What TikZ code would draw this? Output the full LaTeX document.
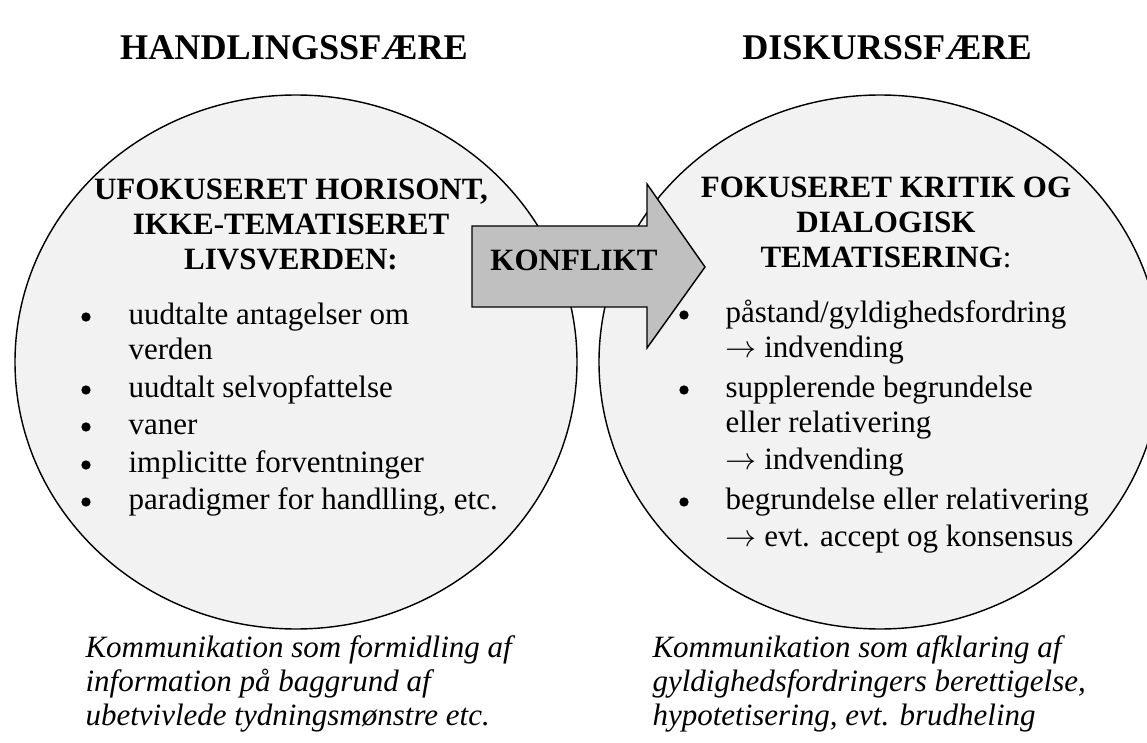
\documentclass[tikz,border=0pt]{standalone}
\usepackage{fontspec}
\setmainfont{Liberation Serif}
\definecolor{circfill}{HTML}{F2F2F2}
\definecolor{arrowfill}{HTML}{C0C0C0}
\newcommand{\rarr}{$\rightarrow$}
\begin{document}
\begin{tikzpicture}[x=0.3871pt,y=-0.3871pt,
  body/.style={font=\fontsize{12}{14}\selectfont, inner sep=0pt, anchor=base west},
  head/.style={font=\fontsize{12}{14}\selectfont\bfseries, inner sep=0pt, anchor=base},
  headplain/.style={font=\fontsize{12}{14}\selectfont, inner sep=0pt, anchor=base},
  ttl/.style={font=\fontsize{14}{17}\selectfont\bfseries, inner sep=0pt, anchor=base},
  dot/.style={circle, fill=black, inner sep=0pt, minimum size=3.6pt},
  capt/.style={font=\fontsize{12}{14}\selectfont\itshape, inner sep=0pt, anchor=base west},
  sphere/.style={fill=circfill, draw=black, line width=0.55pt},
  bigarrow/.style={fill=arrowfill, draw=black, line width=0.55pt, line join=miter}
]
\useasboundingbox (0,0) rectangle (1147,743);
\clip (0,0) rectangle (1147,743);

% titles
\node[ttl] (t1) at (294,60) {HANDLINGSSFÆRE};
\node[ttl] (t2) at (887,60) {DISKURSSFÆRE};

% spheres
\draw[sphere] (296,362) ellipse [x radius=281, y radius=267];
\draw[sphere] (880,362) ellipse [x radius=281, y radius=267];

% arrow
\draw[bigarrow] (472,226) -- (647,226) -- (647,184) -- (705,267) -- (647,348) -- (647,307) -- (472,307) -- cycle;
\node[head] (konf) at (574,271) {KONFLIKT};

% left heading
\node[head] (lh1) at (291,200) {UFOKUSERET HORISONT,};
\node[head] (lh2) at (291,235) {IKKE-TEMATISERET};
\node[head] (lh3) at (291,270) {LIVSVERDEN:};

% left bullets
\node[dot] (lb1) at (86,317) {};
\node[dot] (lb2) at (86,390) {};
\node[dot] (lb3) at (86,427) {};
\node[dot] (lb4) at (86,465) {};
\node[dot] (lb5) at (86,502) {};
\node[body] (ll1) at (128,325) {uudtalte antagelser om};
\node[body] (ll2) at (128,360) {verden};
\node[body] (ll3) at (128,398) {uudtalt selvopfattelse};
\node[body] (ll4) at (128,435) {vaner};
\node[body] (ll5) at (128,473) {implicitte forventninger};
\node[body] (ll6) at (128,510) {paradigmer for handlling, etc.};

% right heading
\node[head] (rh1) at (886,198) {FOKUSERET KRITIK OG};
\node[head] (rh2) at (886,233) {DIALOGISK};
\node[headplain] (rh3) at (886,268) {\textbf{TEMATISERING}:};

% right bullets
\node[dot] (rb1) at (684,315) {};
\node[dot] (rb2) at (684,390) {};
\node[dot] (rb3) at (684,502) {};
\node[body] (rl1) at (725,323) {påstand/gyldighedsfordring};
\node[body] (rl2) at (725,358) {\rarr\ indvending};
\node[body] (rl3) at (725,398) {supplerende begrundelse};
\node[body] (rl4) at (725,433) {eller relativering};
\node[body] (rl5) at (725,470) {\rarr\ indvending};
\node[body] (rl6) at (725,510) {begrundelse eller relativering};
\node[body] (rl7) at (725,547) {\rarr\ evt. accept og konsensus};

% captions
\node[capt] (lc1) at (85,658) {Kommunikation som formidling af};
\node[capt] (lc2) at (85,692) {information på baggrund af};
\node[capt] (lc3) at (85,726) {ubetvivlede tydningsmønstre etc.};
\node[capt] (rc1) at (652,658) {Kommunikation som afklaring af};
\node[capt] (rc2) at (652,692) {gyldighedsfordringers berettigelse,};
\node[capt] (rc3) at (652,726) {hypotetisering, evt. brudheling};
\end{tikzpicture}
\end{document}
